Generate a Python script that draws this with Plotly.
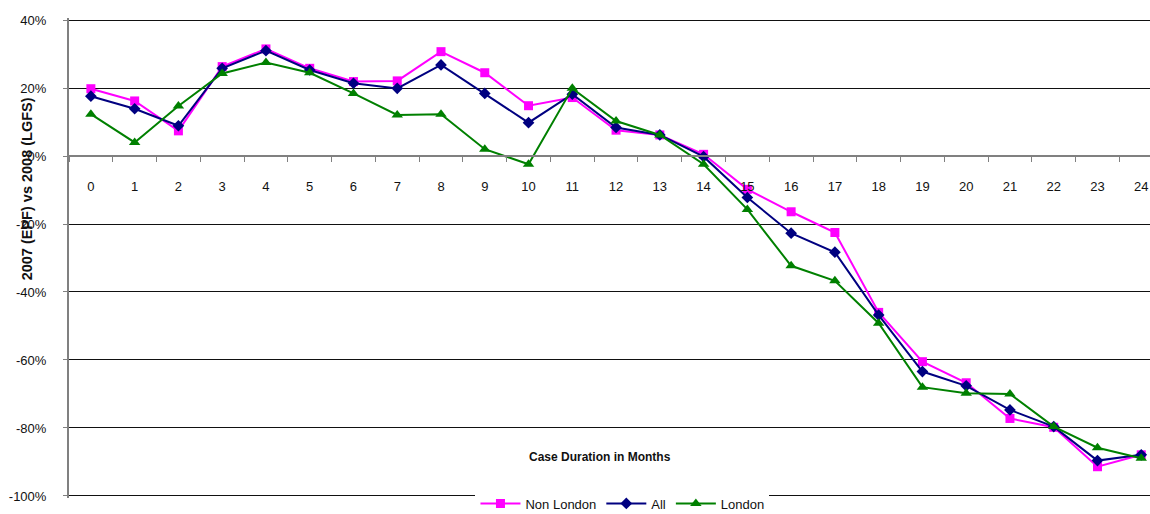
import plotly.graph_objects as go

# Case duration categories (months)
months = [str(m) for m in range(25)]

# % change 2007 (EPF) vs 2008 (LGFS), by region
non_london = [19.8, 16.2, 7.4, 26.3, 31.5, 25.8, 21.9, 22.1, 30.7, 24.5, 14.8, 17.2, 7.6,
              6.2, 0.5, -9.8, -16.4, -22.5, -46.0, -60.5, -66.7, -77.2, -79.8, -91.4, -87.9]
all_regions = [17.6, 13.9, 8.9, 25.8, 31.0, 25.3, 21.4, 19.9, 26.8, 18.4, 9.8, 18.2, 8.4,
               6.2, -0.2, -12.2, -22.7, -28.3, -46.8, -63.4, -67.6, -74.7, -79.6, -89.6, -87.9]
london = [12.3, 4.0, 14.7, 24.3, 27.5, 24.5, 18.4, 12.1, 12.3, 2.0, -2.4, 19.9, 10.3,
          6.2, -2.4, -15.7, -32.3, -36.7, -49.2, -68.0, -69.8, -70.0, -79.6, -85.8, -88.9]

# y-axis ticks and their labels
y_ticks = [-100, -80, -60, -40, -20, 0, 20, 40]
y_tick_labels = ["-100%", "-80%", "-60%", "-40%", "-20%", "0%", "20%", "40%"]

FONT = "Liberation Sans, Arial, sans-serif"

fig = go.Figure()
fig.add_trace(go.Scatter(x=months, y=non_london, name="Non London", mode="lines+markers",
                         line=dict(color="#FF00FF", width=2),
                         marker=dict(symbol="square", size=9, color="#FF00FF")))
fig.add_trace(go.Scatter(x=months, y=all_regions, name="All", mode="lines+markers",
                         line=dict(color="#000080", width=2),
                         marker=dict(symbol="diamond", size=9, color="#000080")))
fig.add_trace(go.Scatter(x=months, y=london, name="London", mode="lines+markers",
                         line=dict(color="#008000", width=2),
                         marker=dict(symbol="triangle-up", size=10, color="#008000")))

# padded a little so the gridlines at both range ends are still drawn
y_min, y_max = -100.6, 40.6

fig.update_layout(
    width=1150, height=514,
    margin=dict(l=69, r=0, t=18, b=16, autoexpand=False),
    paper_bgcolor="white", plot_bgcolor="white",
    font=dict(family=FONT, size=13, color="#111"),
    showlegend=True,
    legend=dict(orientation="h", x=0.512, xanchor="center", y=-0.0115, yanchor="middle",
                bgcolor="white", font=dict(size=13, family=FONT, color="#111"),
                itemwidth=40, tracegroupgap=0),
    xaxis=dict(type="category", categoryorder="array", categoryarray=months,
               range=[-0.5, 24.2], anchor="free", position=(0 - y_min) / (y_max - y_min),
               tickson="boundaries", ticks="outside", ticklen=5, tickcolor="#808080",
               showline=True, linecolor="#808080", linewidth=2, showgrid=False,
               ticklabelstandoff=18, tickfont=dict(size=13, color="#111")),
    yaxis=dict(range=[y_min, y_max], tickmode="array", tickvals=y_ticks, ticktext=y_tick_labels,
               ticks="outside", ticklen=4, tickcolor="#808080",
               showline=True, linecolor="#808080", linewidth=2,
               showgrid=True, gridcolor="#111", gridwidth=1, zeroline=False,
               ticklabelstandoff=14, tickfont=dict(size=13, color="#111")),
    annotations=[
        dict(text="<b>Case Duration in Months</b>", x=0.491, y=0.085, xref="paper", yref="paper",
             xanchor="center", yanchor="middle",
             showarrow=False, font=dict(size=12, family=FONT, color="#111")),
        dict(text="<b>2007 (EPF) vs 2008 (LGFS)</b>", x=-0.0389, y=0.645, xref="paper", yref="paper",
             xanchor="center", yanchor="middle",
             textangle=-90, showarrow=False, font=dict(size=14.5, family=FONT, color="#111")),
    ],
)

fig.write_html("out.html")
